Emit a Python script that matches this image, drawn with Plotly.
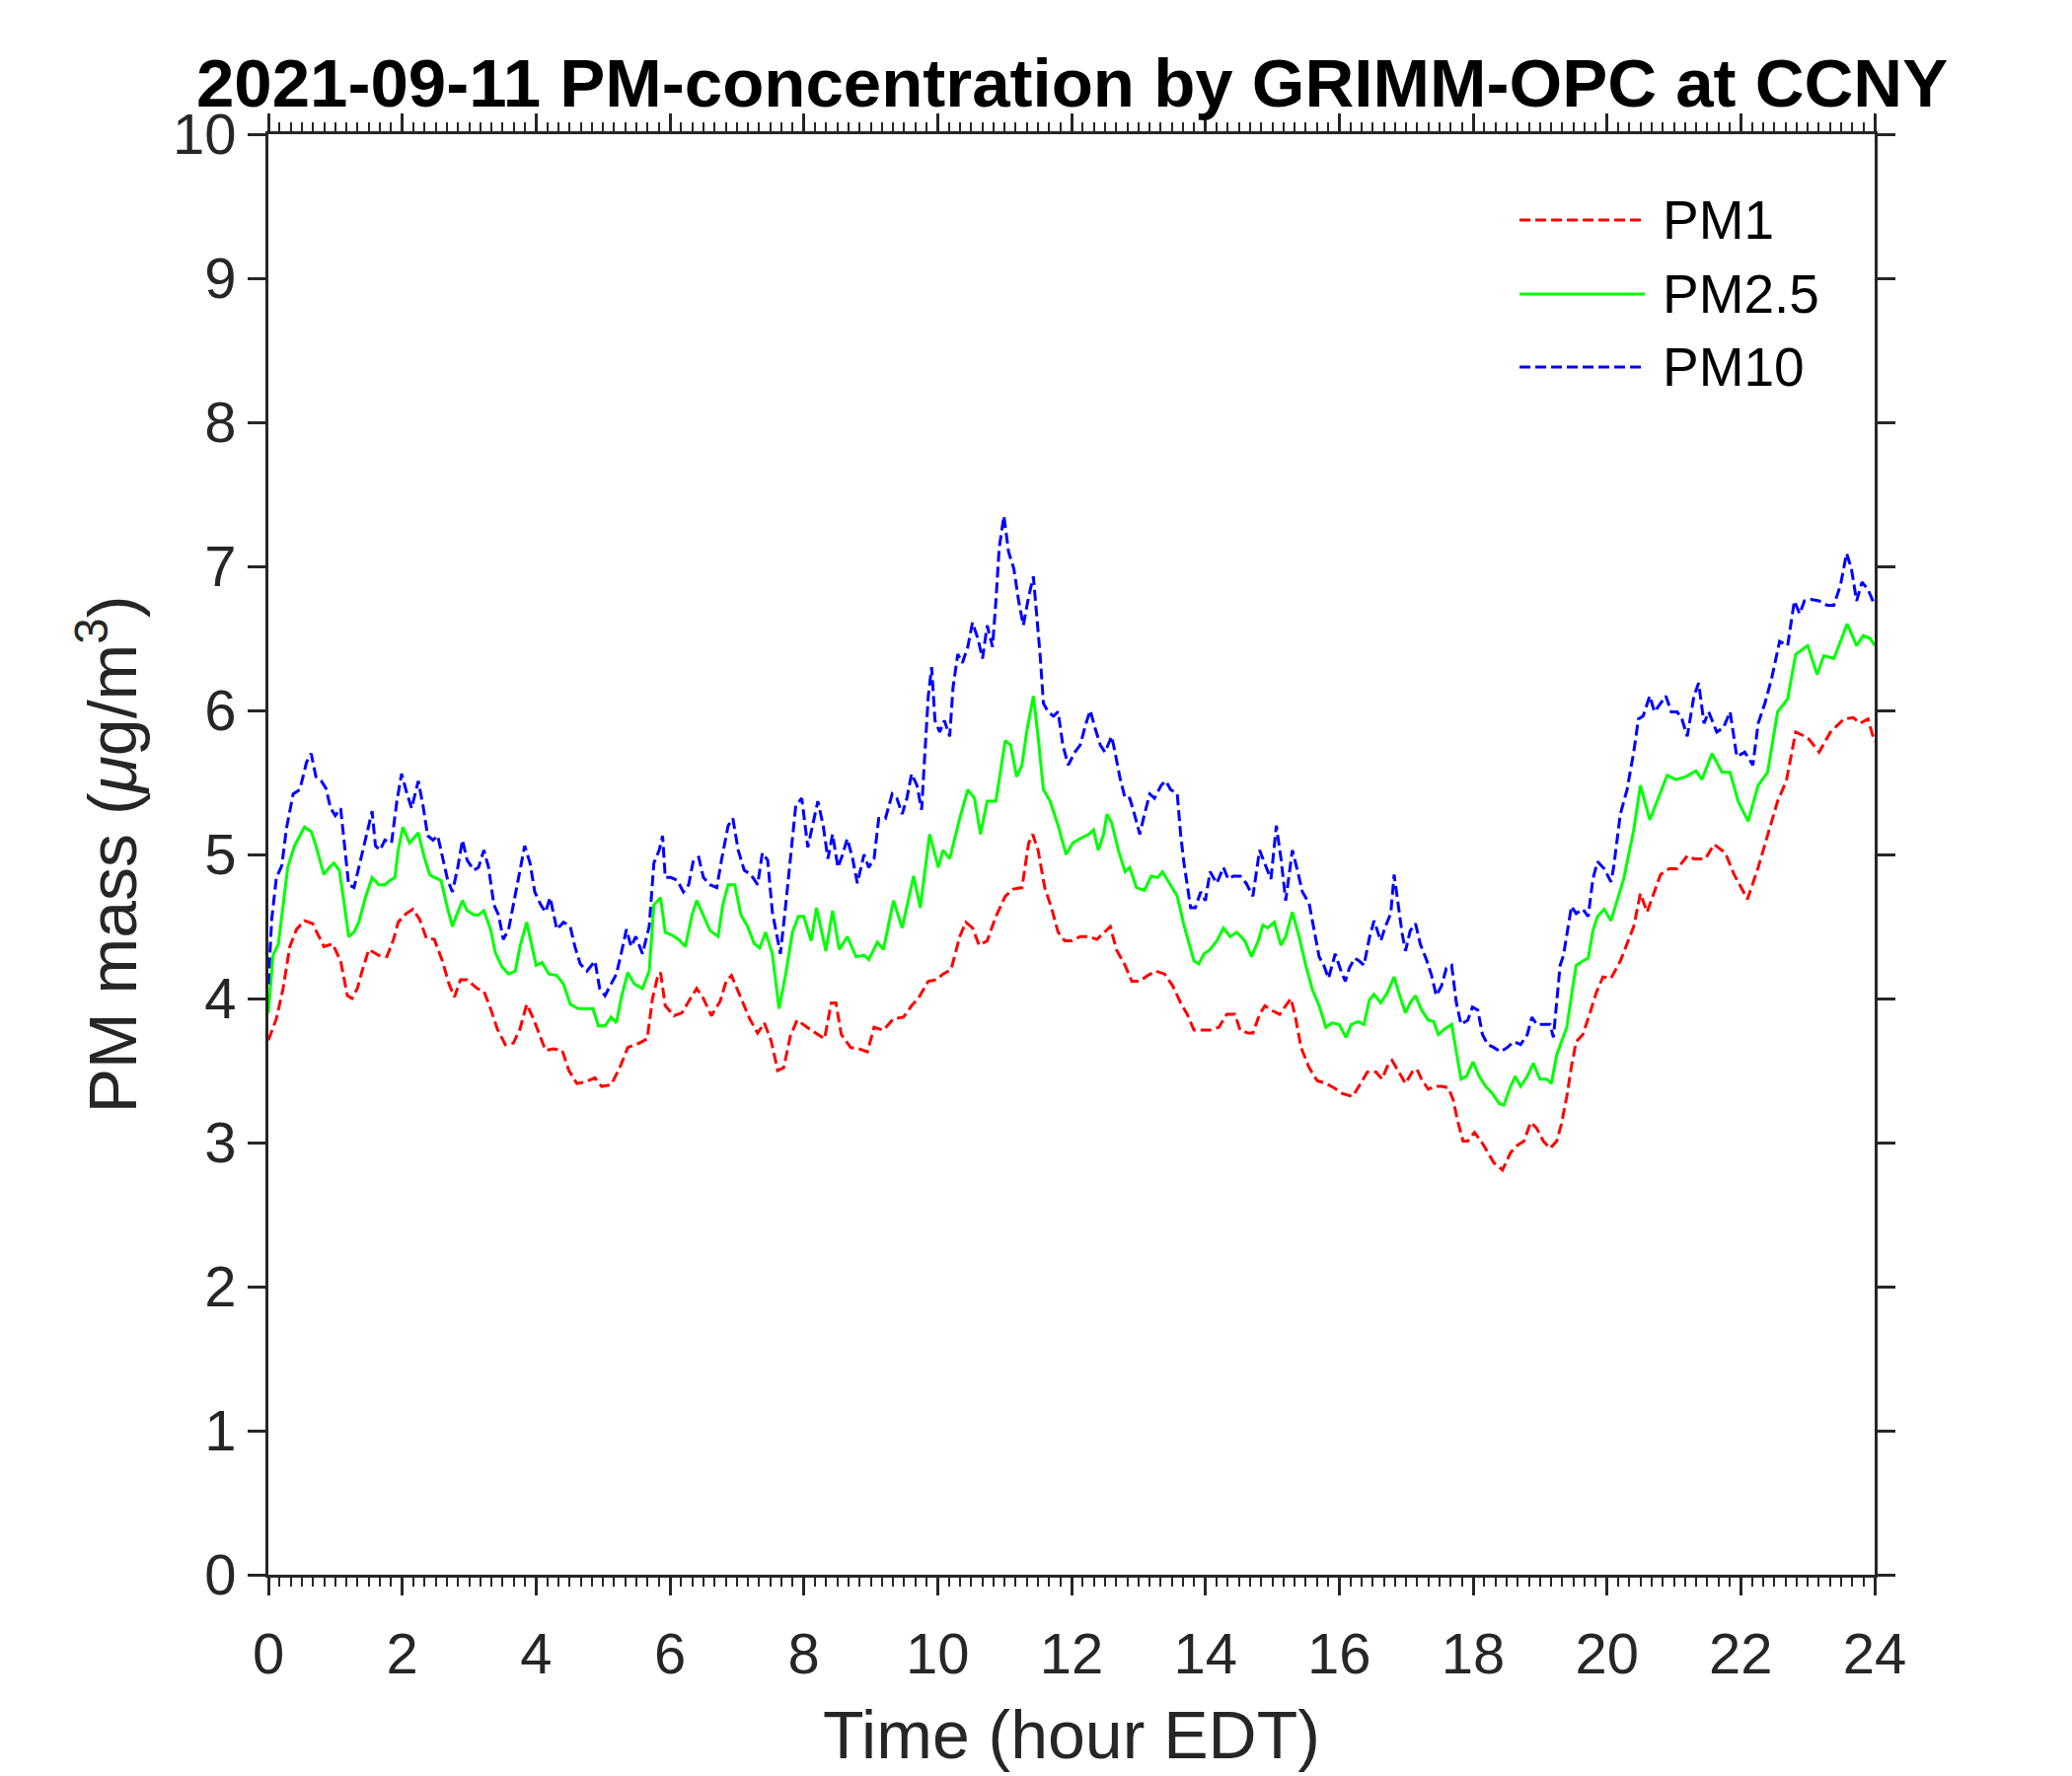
import plotly.graph_objects as go

# ---------------- data ----------------
pm1_hour = [0, 0.12, 0.22, 0.32, 0.42, 0.54, 0.66, 0.76, 0.83, 0.96, 1.08, 1.18, 1.25, 1.33, 1.4, 1.5, 1.65, 1.77, 1.87, 1.94,
            2.06, 2.16, 2.26, 2.36, 2.48, 2.6, 2.7, 2.78, 2.87, 2.97, 3.12, 3.22, 3.32, 3.42, 3.54, 3.66, 3.76, 3.86, 3.96, 4.05,
            4.14, 4.26, 4.39, 4.49, 4.61, 4.73, 4.88, 4.98, 5.12, 5.25, 5.37, 5.54, 5.66, 5.74, 5.81, 5.86, 5.93, 6.06, 6.18, 6.28,
            6.4, 6.5, 6.62, 6.75, 6.84, 6.92, 7.07, 7.19, 7.31, 7.41, 7.51, 7.61, 7.7, 7.8, 7.9, 8.02, 8.11, 8.31, 8.41, 8.48,
            8.56, 8.7, 8.83, 8.95, 9.05, 9.19, 9.34, 9.49, 9.61, 9.71, 9.86, 9.98, 10.08, 10.2, 10.33, 10.42, 10.52, 10.62, 10.74, 10.87,
            11.01, 11.13, 11.26, 11.36, 11.42, 11.5, 11.6, 11.7, 11.8, 11.9, 12.01, 12.13, 12.26, 12.38, 12.5, 12.58, 12.67, 12.8, 12.9, 13.02,
            13.14, 13.26, 13.39, 13.51, 13.63, 13.73, 13.83, 13.95, 14.07, 14.2, 14.32, 14.44, 14.52, 14.64, 14.71, 14.81, 14.89, 14.98, 15.11, 15.2,
            15.28, 15.35, 15.43, 15.55, 15.67, 15.8, 15.92, 16.05, 16.2, 16.32, 16.42, 16.55, 16.64, 16.72, 16.79, 16.89, 16.99, 17.09, 17.16, 17.23,
            17.33, 17.43, 17.53, 17.63, 17.7, 17.77, 17.85, 17.92, 18.02, 18.12, 18.22, 18.31, 18.44, 18.56, 18.66, 18.76, 18.86, 18.95, 19.05, 19.15,
            19.25, 19.32, 19.4, 19.47, 19.54, 19.64, 19.74, 19.84, 19.94, 20.06, 20.2, 20.4, 20.5, 20.6, 20.8, 20.93, 21.05, 21.2, 21.3, 21.47,
            21.6, 21.77, 21.9, 22.1, 22.26, 22.4, 22.55, 22.68, 22.82, 23.0, 23.17, 23.34, 23.54, 23.68, 23.78, 23.9, 24.0]
pm1_mass = [3.71, 3.86, 4.07, 4.36, 4.48, 4.54, 4.52, 4.43, 4.36, 4.38, 4.26, 4.02, 4.0, 4.07, 4.19, 4.34, 4.3, 4.29, 4.41, 4.53,
            4.59, 4.62, 4.55, 4.42, 4.41, 4.26, 4.1, 4.01, 4.13, 4.13, 4.07, 4.05, 3.93, 3.79, 3.68, 3.69, 3.79, 3.96, 3.86, 3.75,
            3.64, 3.65, 3.64, 3.5, 3.41, 3.42, 3.45, 3.39, 3.4, 3.52, 3.66, 3.69, 3.72, 4.0, 4.14, 4.18, 3.95, 3.88, 3.9, 3.98,
            4.07, 4.0, 3.88, 3.98, 4.12, 4.16, 4.0, 3.86, 3.76, 3.83, 3.71, 3.5, 3.52, 3.74, 3.85, 3.81, 3.78, 3.72, 3.97, 3.97,
            3.75, 3.66, 3.65, 3.63, 3.8, 3.78, 3.86, 3.87, 3.95, 4.0, 4.12, 4.13, 4.17, 4.2, 4.43, 4.53, 4.49, 4.37, 4.4, 4.57,
            4.71, 4.76, 4.77, 5.08, 5.14, 5.03, 4.77, 4.63, 4.46, 4.4, 4.4, 4.43, 4.43, 4.41, 4.46, 4.5, 4.34, 4.23, 4.12, 4.12,
            4.16, 4.19, 4.17, 4.09, 3.97, 3.89, 3.78, 3.78, 3.78, 3.8, 3.89, 3.89, 3.78, 3.76, 3.76, 3.89, 3.95, 3.92, 3.89, 3.95,
            4.0, 3.86, 3.66, 3.52, 3.43, 3.41, 3.38, 3.34, 3.32, 3.41, 3.49, 3.49, 3.44, 3.53, 3.57, 3.49, 3.41, 3.49, 3.51, 3.44,
            3.37, 3.39, 3.39, 3.38, 3.3, 3.15, 3.01, 3.01, 3.07, 3.01, 2.93, 2.86, 2.81, 2.93, 2.98, 3.01, 3.14, 3.1, 3.01, 2.96,
            3.01, 3.13, 3.32, 3.53, 3.7, 3.75, 3.89, 4.04, 4.15, 4.14, 4.26, 4.5, 4.73, 4.6, 4.86, 4.9, 4.9, 4.99, 4.97, 4.97,
            5.07, 5.01, 4.86, 4.69, 4.91, 5.14, 5.37, 5.51, 5.85, 5.81, 5.71, 5.85, 5.94, 5.95, 5.91, 5.94, 5.78]

pm25_hour = [0, 0.07, 0.15, 0.22, 0.29, 0.39, 0.47, 0.54, 0.64, 0.71, 0.83, 0.91, 0.98, 1.06, 1.13, 1.2, 1.28, 1.35, 1.45, 1.55,
             1.65, 1.74, 1.82, 1.89, 1.94, 2.01, 2.11, 2.24, 2.33, 2.41, 2.48, 2.58, 2.68, 2.75, 2.83, 2.9, 2.97, 3.07, 3.14, 3.22,
             3.32, 3.39, 3.49, 3.59, 3.69, 3.76, 3.86, 3.93, 4.0, 4.09, 4.19, 4.31, 4.41, 4.51, 4.63, 4.76, 4.85, 4.93, 5.03, 5.12,
             5.2, 5.27, 5.37, 5.47, 5.59, 5.69, 5.76, 5.86, 5.93, 6.03, 6.13, 6.23, 6.33, 6.4, 6.5, 6.6, 6.72, 6.79, 6.87, 6.97,
             7.06, 7.16, 7.26, 7.34, 7.43, 7.53, 7.63, 7.73, 7.83, 7.92, 8.0, 8.11, 8.19, 8.33, 8.43, 8.53, 8.65, 8.78, 8.9, 8.97,
             9.1, 9.19, 9.34, 9.47, 9.64, 9.74, 9.88, 10.01, 10.08, 10.18, 10.33, 10.45, 10.55, 10.64, 10.74, 10.87, 11.01, 11.09, 11.18, 11.26,
             11.33, 11.43, 11.5, 11.58, 11.68, 11.8, 11.92, 12.02, 12.13, 12.26, 12.33, 12.4, 12.48, 12.53, 12.6, 12.7, 12.8, 12.87, 12.97, 13.09,
             13.19, 13.29, 13.36, 13.46, 13.58, 13.68, 13.75, 13.83, 13.9, 13.98, 14.07, 14.17, 14.27, 14.37, 14.47, 14.59, 14.69, 14.79, 14.86, 14.93,
             15.03, 15.13, 15.2, 15.3, 15.4, 15.5, 15.6, 15.7, 15.8, 15.89, 16.0, 16.1, 16.18, 16.28, 16.37, 16.45, 16.52, 16.62, 16.72, 16.82,
             16.89, 16.99, 17.06, 17.14, 17.23, 17.33, 17.41, 17.48, 17.58, 17.68, 17.75, 17.82, 17.9, 18.0, 18.09, 18.19, 18.29, 18.39, 18.46, 18.56,
             18.63, 18.71, 18.81, 18.9, 19.0, 19.1, 19.17, 19.25, 19.32, 19.4, 19.47, 19.54, 19.64, 19.72, 19.79, 19.86, 19.96, 20.06, 20.1, 20.25,
             20.4, 20.5, 20.64, 20.8, 20.9, 21.03, 21.18, 21.33, 21.42, 21.57, 21.72, 21.84, 21.96, 22.11, 22.26, 22.4, 22.55, 22.7, 22.82, 23.0,
             23.14, 23.24, 23.39, 23.49, 23.59, 23.73, 23.83, 23.93, 24.0]
pm25_mass = [3.9, 4.3, 4.38, 4.65, 4.91, 5.06, 5.13, 5.19, 5.16, 5.06, 4.86, 4.91, 4.94, 4.89, 4.67, 4.43, 4.46, 4.53, 4.7, 4.84,
             4.79, 4.79, 4.82, 4.84, 5.03, 5.19, 5.08, 5.15, 4.98, 4.86, 4.84, 4.82, 4.62, 4.5, 4.6, 4.68, 4.61, 4.58, 4.58, 4.61,
             4.48, 4.32, 4.22, 4.17, 4.19, 4.36, 4.53, 4.38, 4.23, 4.25, 4.17, 4.16, 4.1, 3.96, 3.93, 3.93, 3.93, 3.81, 3.81, 3.87,
             3.83, 4.0, 4.18, 4.1, 4.07, 4.19, 4.65, 4.7, 4.46, 4.44, 4.41, 4.36, 4.58, 4.68, 4.58, 4.47, 4.43, 4.65, 4.79, 4.79,
             4.58, 4.5, 4.38, 4.35, 4.46, 4.31, 3.93, 4.17, 4.46, 4.57, 4.57, 4.4, 4.63, 4.33, 4.61, 4.34, 4.43, 4.29, 4.3, 4.27,
             4.39, 4.34, 4.68, 4.49, 4.85, 4.63, 5.14, 4.91, 5.03, 4.97, 5.25, 5.45, 5.39, 5.14, 5.37, 5.37, 5.79, 5.76, 5.54, 5.62,
             5.85, 6.1, 5.82, 5.45, 5.37, 5.2, 5.0, 5.08, 5.11, 5.14, 5.17, 5.03, 5.14, 5.28, 5.22, 5.03, 4.88, 4.91, 4.77, 4.75,
             4.85, 4.84, 4.88, 4.8, 4.71, 4.51, 4.4, 4.26, 4.24, 4.31, 4.34, 4.4, 4.49, 4.43, 4.46, 4.4, 4.29, 4.4, 4.51, 4.49,
             4.53, 4.37, 4.43, 4.6, 4.43, 4.23, 4.06, 3.95, 3.8, 3.83, 3.82, 3.73, 3.82, 3.84, 3.82, 3.99, 4.03, 3.97, 4.04, 4.15,
             4.04, 3.9, 3.97, 4.02, 3.92, 3.85, 3.84, 3.75, 3.79, 3.82, 3.63, 3.44, 3.46, 3.56, 3.46, 3.39, 3.34, 3.27, 3.26, 3.39,
             3.46, 3.39, 3.46, 3.55, 3.44, 3.44, 3.41, 3.61, 3.7, 3.8, 4.02, 4.23, 4.26, 4.28, 4.47, 4.57, 4.62, 4.54, 4.6, 4.83,
             5.17, 5.48, 5.24, 5.43, 5.55, 5.52, 5.54, 5.58, 5.52, 5.7, 5.57, 5.57, 5.37, 5.23, 5.48, 5.57, 5.99, 6.08, 6.39, 6.45,
             6.25, 6.38, 6.36, 6.48, 6.6, 6.45, 6.52, 6.5, 6.45]

pm10_hour = [0, 0.05, 0.12, 0.2, 0.27, 0.37, 0.47, 0.57, 0.64, 0.71, 0.79, 0.86, 0.93, 1.0, 1.08, 1.15, 1.2, 1.28, 1.35, 1.42,
             1.5, 1.55, 1.6, 1.67, 1.74, 1.84, 1.92, 1.99, 2.06, 2.14, 2.24, 2.31, 2.38, 2.46, 2.53, 2.6, 2.68, 2.75, 2.83, 2.9,
             2.97, 3.07, 3.14, 3.22, 3.29, 3.37, 3.44, 3.51, 3.59, 3.66, 3.73, 3.83, 3.91, 3.98, 4.07, 4.14, 4.21, 4.31, 4.41, 4.51,
             4.58, 4.66, 4.76, 4.88, 4.95, 5.03, 5.12, 5.2, 5.27, 5.35, 5.42, 5.49, 5.59, 5.69, 5.76, 5.84, 5.89, 5.93, 6.01, 6.11,
             6.2, 6.28, 6.35, 6.43, 6.5, 6.6, 6.7, 6.77, 6.87, 6.94, 7.02, 7.11, 7.21, 7.31, 7.38, 7.46, 7.53, 7.61, 7.65, 7.73,
             7.8, 7.88, 7.97, 8.06, 8.14, 8.21, 8.29, 8.36, 8.43, 8.51, 8.58, 8.65, 8.73, 8.8, 8.9, 8.97, 9.05, 9.12, 9.22, 9.32,
             9.39, 9.47, 9.54, 9.61, 9.69, 9.76, 9.81, 9.86, 9.91, 9.96, 10.03, 10.1, 10.18, 10.23, 10.3, 10.37, 10.45, 10.52, 10.6, 10.67,
             10.74, 10.82, 10.87, 10.92, 10.99, 11.06, 11.14, 11.21, 11.28, 11.36, 11.43, 11.48, 11.53, 11.58, 11.65, 11.73, 11.8, 11.87, 11.95, 12.05,
             12.13, 12.21, 12.28, 12.35, 12.43, 12.5, 12.6, 12.65, 12.72, 12.8, 12.87, 12.94, 13.02, 13.09, 13.17, 13.24, 13.34, 13.41, 13.48, 13.58,
             13.63, 13.68, 13.73, 13.78, 13.85, 13.93, 14.0, 14.07, 14.17, 14.27, 14.34, 14.42, 14.52, 14.61, 14.71, 14.81, 14.91, 14.98, 15.06, 15.13,
             15.2, 15.3, 15.38, 15.45, 15.55, 15.62, 15.7, 15.77, 15.84, 15.94, 16.02, 16.09, 16.15, 16.23, 16.3, 16.37, 16.45, 16.52, 16.62, 16.69,
             16.77, 16.82, 16.87, 16.94, 16.99, 17.06, 17.14, 17.21, 17.31, 17.38, 17.45, 17.53, 17.6, 17.68, 17.75, 17.82, 17.92, 17.99, 18.07, 18.14,
             18.22, 18.31, 18.41, 18.51, 18.61, 18.71, 18.81, 18.88, 18.95, 19.05, 19.15, 19.2, 19.25, 19.3, 19.35, 19.42, 19.47, 19.54, 19.64, 19.72,
             19.79, 19.86, 19.96, 20.06, 20.1, 20.2, 20.3, 20.4, 20.47, 20.54, 20.64, 20.71, 20.8, 20.88, 20.96, 21.05, 21.12, 21.2, 21.3, 21.37,
             21.45, 21.52, 21.64, 21.74, 21.84, 21.94, 22.06, 22.18, 22.26, 22.36, 22.46, 22.58, 22.7, 22.8, 22.88, 22.95, 23.05, 23.17, 23.29, 23.39,
             23.49, 23.58, 23.65, 23.73, 23.81, 23.9, 24.0]
pm10_mass = [4.1, 4.55, 4.84, 4.92, 5.18, 5.42, 5.45, 5.64, 5.7, 5.54, 5.51, 5.46, 5.32, 5.27, 5.32, 5.03, 4.79, 4.77, 4.91, 5.06,
             5.2, 5.3, 5.06, 5.03, 5.1, 5.08, 5.37, 5.56, 5.44, 5.32, 5.51, 5.34, 5.13, 5.1, 5.13, 4.98, 4.82, 4.74, 4.91, 5.1,
             4.96, 4.89, 4.91, 5.03, 4.91, 4.65, 4.58, 4.41, 4.48, 4.65, 4.82, 5.06, 4.94, 4.74, 4.65, 4.6, 4.7, 4.48, 4.53, 4.5,
             4.36, 4.24, 4.19, 4.26, 4.07, 4.02, 4.1, 4.17, 4.31, 4.48, 4.36, 4.43, 4.31, 4.5, 4.94, 5.03, 5.13, 4.84, 4.84, 4.82,
             4.74, 4.79, 4.96, 4.98, 4.84, 4.79, 4.77, 4.96, 5.2, 5.25, 5.03, 4.89, 4.86, 4.79, 5.01, 4.96, 4.6, 4.41, 4.31, 4.65,
             4.98, 5.34, 5.39, 5.05, 5.22, 5.37, 5.2, 4.97, 5.14, 4.91, 5.0, 5.11, 4.97, 4.8, 5.0, 4.91, 4.97, 5.25, 5.25, 5.42,
             5.39, 5.28, 5.39, 5.56, 5.48, 5.31, 5.71, 6.1, 6.3, 5.93, 5.85, 5.93, 5.82, 6.16, 6.39, 6.33, 6.44, 6.61, 6.5, 6.36,
             6.59, 6.44, 6.76, 7.13, 7.35, 7.1, 6.98, 6.76, 6.59, 6.79, 6.93, 6.67, 6.39, 6.05, 5.99, 5.96, 5.99, 5.76, 5.62, 5.71,
             5.76, 5.9, 6.0, 5.88, 5.76, 5.71, 5.82, 5.71, 5.54, 5.39, 5.39, 5.28, 5.14, 5.28, 5.42, 5.39, 5.48, 5.51, 5.45, 5.42,
             5.14, 4.94, 4.8, 4.63, 4.63, 4.74, 4.68, 4.88, 4.8, 4.91, 4.83, 4.85, 4.85, 4.8, 4.71, 5.03, 4.91, 4.83, 5.2, 4.97,
             4.68, 5.03, 4.88, 4.74, 4.66, 4.49, 4.29, 4.23, 4.14, 4.31, 4.2, 4.12, 4.21, 4.28, 4.26, 4.23, 4.42, 4.54, 4.4, 4.5,
             4.59, 4.86, 4.69, 4.45, 4.33, 4.47, 4.52, 4.38, 4.26, 4.16, 4.02, 4.09, 4.21, 4.23, 3.97, 3.82, 3.85, 3.94, 3.92, 3.75,
             3.68, 3.66, 3.63, 3.66, 3.7, 3.68, 3.75, 3.87, 3.82, 3.82, 3.82, 3.73, 3.97, 4.23, 4.3, 4.5, 4.64, 4.59, 4.62, 4.57,
             4.83, 4.95, 4.9, 4.81, 4.91, 5.28, 5.45, 5.71, 5.94, 5.96, 6.1, 5.99, 6.05, 6.1, 5.99, 5.99, 5.94, 5.82, 6.1, 6.19,
             5.91, 5.99, 5.85, 5.88, 5.99, 5.68, 5.71, 5.62, 5.91, 6.05, 6.22, 6.48, 6.45, 6.76, 6.67, 6.76, 6.77, 6.76, 6.73, 6.73,
             6.87, 7.09, 6.99, 6.76, 6.89, 6.84, 6.73]

series_names = ["PM1", "PM2.5", "PM10"]
series_colors = ["#FF0000", "#00FF00", "#0000FF"]
series_dashes = ["11px,5px", "solid", "11px,5px"]
x_ticks = list(range(0, 25, 2))
y_ticks = list(range(0, 11))

TITLE = "2021-09-11 PM-concentration by GRIMM-OPC at CCNY"
FONT = "Liberation Sans, Arial, Helvetica, sans-serif"
AXC = "#262626"
LW = 3.0

fig = go.Figure()
data = [(pm1_hour, pm1_mass), (pm25_hour, pm25_mass), (pm10_hour, pm10_mass)]
for (hx, vy), name, col, dash in zip(data, series_names, series_colors, series_dashes):
    fig.add_trace(go.Scatter(x=hx, y=vy, mode="lines", name=name, showlegend=False,
                             line=dict(color=col, width=LW, dash=dash)))

# manual legend (long line samples like the reference)
leg_y = [0.9404, 0.8890, 0.8384]
for name, col, dash, yy in zip(series_names, series_colors, series_dashes, leg_y):
    fig.add_shape(type="line", xref="paper", yref="paper", x0=0.7789, x1=0.8569, y0=yy, y1=yy,
                  line=dict(color=col, width=LW, dash=dash))
    fig.add_annotation(xref="paper", yref="paper", x=0.8667, y=yy, xanchor="left", yanchor="middle",
                       text=name, showarrow=False, font=dict(family=FONT, size=55, color="#000000"))

fig.add_annotation(xref="paper", yref="paper", x=0.5, y=1.035, xanchor="center", yanchor="middle",
                   text="<b>" + TITLE + "</b>", showarrow=False,
                   font=dict(family=FONT, size=69, color="#000000"))

fig.update_layout(
    width=2100, height=1800,
    margin=dict(l=264, r=208, t=128, b=212),
    paper_bgcolor="white", plot_bgcolor="white",
    font=dict(family=FONT, color=AXC),
    xaxis=dict(range=[0, 24], tickmode="array", tickvals=x_ticks, ticktext=[str(v) for v in x_ticks],
               ticks="outside", ticklen=18, tickwidth=LW, tickcolor=AXC,
               minor=dict(dtick=1/6, ticks="outside", ticklen=9, tickwidth=2, tickcolor=AXC),
               showline=True, linecolor=AXC, linewidth=LW, mirror="ticks",
               showgrid=False, zeroline=False, ticklabelstandoff=9,
               tickfont=dict(family=FONT, size=58, color=AXC),
               title=dict(text="Time (hour EDT)", font=dict(family=FONT, size=68, color=AXC), standoff=28)),
    yaxis=dict(range=[0, 10], tickmode="array", tickvals=y_ticks, ticktext=[str(v) for v in y_ticks],
               ticks="outside", ticklen=18, tickwidth=LW, tickcolor=AXC,
               showline=True, linecolor=AXC, linewidth=LW, mirror="ticks",
               showgrid=False, zeroline=False,
               tickfont=dict(family=FONT, size=58, color=AXC),
               title=dict(text="PM mass (<i>μ</i>g/m<sup>3</sup>)", font=dict(family=FONT, size=68, color=AXC), standoff=15)),
)

fig.write_html("out.html")
